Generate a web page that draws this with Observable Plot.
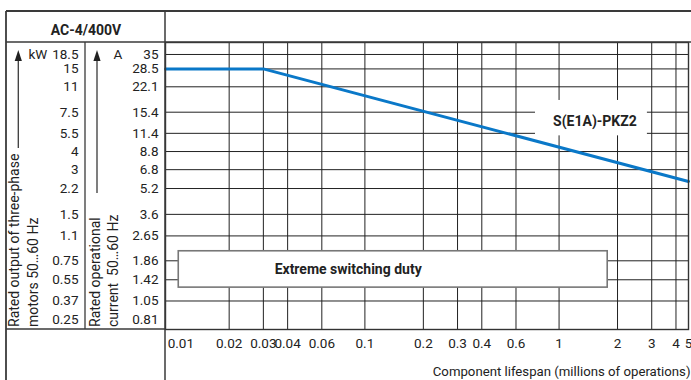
<!DOCTYPE html>
<html><head><meta charset="utf-8">
<script src="https://cdn.jsdelivr.net/npm/d3@7"></script>
<script src="https://cdn.jsdelivr.net/npm/@observablehq/plot@0.6"></script>
<style>
html,body{margin:0;padding:0;background:#fff;}
#chart{width:691px;height:380px;}
</style></head><body><div id="chart"></div>
<script>
// ---- data ----
const currentTicks  = [35, 28.5, 22.1, 15.4, 11.4, 8.8, 6.8, 5.2, 3.6, 2.65, 1.86, 1.42, 1.05, 0.81];
const currentLabels = ["35","28.5","22.1","15.4","11.4","8.8","6.8","5.2","3.6","2.65","1.86","1.42","1.05","0.81"];
const powerLabels   = ["18.5","15","11","7.5","5.5","4","3","2.2","1.5","1.1","0.75","0.55","0.37","0.25"];
const lifespanTicks  = [0.01,0.02,0.03,0.04,0.06,0.1,0.2,0.3,0.4,0.6,1,2,3,4,5];
const lifespanLabels = ["0.01","0.02","0.03","0.04","0.06","0.1","0.2","0.3","0.4","0.6","1","2","3","4","5"];
const seriesName     = "S(E1A)-PKZ2";
const seriesLifespan = [0.0094, 0.03, 5];
const seriesCurrent  = [28.5, 28.5, 5.75];
const seriesLabelAt  = [1.53, 13.56];
const seriesLabelBoxLifespan = [0.756, 2.85];
const seriesLabelBoxCurrent  = [11.0, 18.2];
const dutyLabel = "Extreme switching duty";
const dutyLabelAt = [0.082, 1.645];
const dutyBoxLifespan = [0.011, 1.78];
const dutyBoxCurrent  = [1.27, 2.13];
const headerText = "AC-4/400V";
const powerTitle = ["Rated output of three-phase", "motors 50\u202660 Hz"];
const currentTitle = ["Rated operational", "current\u00a0 50\u202660 Hz"];
const powerUnit = "kW";
const currentUnit = "A";
const xTitle = "Component lifespan (millions of operations)";

// ---- derived tables ----
const yRows = currentTicks.map((a, i) => ({a, label: currentLabels[i], kw: powerLabels[i]}));
const gridRows = yRows.slice(0, 13);
const xRows = lifespanTicks.map((v, i) => ({v, label: lifespanLabels[i]}));
const line = seriesLifespan.map((x, i) => ({x, y: seriesCurrent[i]}));
const dutyBox = [{x1: dutyBoxLifespan[0], x2: dutyBoxLifespan[1], y1: dutyBoxCurrent[0], y2: dutyBoxCurrent[1]}];
const seriesBox = [{x1: seriesLabelBoxLifespan[0], x2: seriesLabelBoxLifespan[1], y1: seriesLabelBoxCurrent[0], y2: seriesLabelBoxCurrent[1]}];

const ML = 165, MR = 3, MT = 42, MB = 51, W = 691, H = 380;
const ink = "#222";
const mid = {lineAnchor: "middle"};

const plot = Plot.plot({
  width: W, height: H,
  marginLeft: ML, marginRight: MR, marginTop: MT, marginBottom: MB,
  style: {fontFamily: "Roboto, sans-serif", fontSize: "13.5px", color: ink, background: "#fff", overflow: "visible"},
  x: {type: "log", domain: [0.0094, 4.64], clamp: true, axis: null},
  y: {type: "log", domain: [0.70, 41.5], axis: null},
  marks: [
    Plot.ruleY(gridRows, {y: "a", stroke: ink, strokeWidth: 1}),
    Plot.ruleX(xRows.slice(1), {x: "v", stroke: ink, strokeWidth: 1}),
    Plot.rect(dutyBox, {x1: "x1", x2: "x2", y1: "y1", y2: "y2", fill: "#fff", stroke: "#777", strokeWidth: 1.6}),
    Plot.rect(seriesBox, {x1: "x1", x2: "x2", y1: "y1", y2: "y2", fill: "#fff"}),
    Plot.line(line, {x: "x", y: "y", stroke: "#0a78c8", strokeWidth: 3}),
    Plot.frame({stroke: "#333", strokeWidth: 1.4}),
    Plot.text([seriesName], {x: () => seriesLabelAt[0], y: () => seriesLabelAt[1], text: d => d, fontWeight: "bold", fontSize: 14, ...mid}),
    Plot.text([dutyLabel], {x: () => dutyLabelAt[0], y: () => dutyLabelAt[1], text: d => d, fontWeight: "bold", fontSize: 14, ...mid}),
    // y tick labels: current (A) and power (kW)
    Plot.text(yRows, {y: "a", text: "label", frameAnchor: "left", textAnchor: "end", dx: -7, ...mid}),
    Plot.text(yRows, {y: "a", text: "kw", frameAnchor: "left", textAnchor: "end", dx: -87, ...mid}),
    Plot.text(yRows.slice(0, 1), {y: "a", text: () => powerUnit, frameAnchor: "left", textAnchor: "start", dx: -137, ...mid}),
    Plot.text(yRows.slice(0, 1), {y: "a", text: () => currentUnit, frameAnchor: "left", textAnchor: "start", dx: -52, ...mid}),
    // x tick labels
    Plot.text(xRows.slice(0, 1), {x: "v", text: "label", frameAnchor: "bottom", textAnchor: "start", dx: -3, dy: 14.5, ...mid}),
    Plot.text(xRows.slice(1), {x: "v", text: "label", frameAnchor: "bottom", dy: 14.5, ...mid}),
    Plot.text([xTitle], {text: d => d, frameAnchor: "bottom-right", textAnchor: "end", dx: 2, dy: 42, fontSize: 13.2, ...mid}),
    // header
    Plot.text([headerText], {text: d => d, frameAnchor: "top-left", textAnchor: "middle", dx: -79.5, dy: -12, fontWeight: "bold", fontSize: 14, ...mid}),
    // rotated axis titles
    Plot.text([powerTitle[0]], {text: d => d, frameAnchor: "bottom-left", rotate: -90, textAnchor: "start", dx: 14.5 - ML, dy: -2.5, fontSize: 14, ...mid}),
    Plot.text([powerTitle[1]], {text: d => d, frameAnchor: "bottom-left", rotate: -90, textAnchor: "start", dx: 33.3 - ML, dy: -2.5, fontSize: 14, ...mid}),
    Plot.text([currentTitle[0]], {text: d => d, frameAnchor: "bottom-left", rotate: -90, textAnchor: "start", dx: 95 - ML, dy: -2.5, fontSize: 14, ...mid}),
    Plot.text([currentTitle[1]], {text: d => d, frameAnchor: "bottom-left", rotate: -90, textAnchor: "start", dx: 113 - ML, dy: -2.5, fontSize: 14, ...mid})
  ]
});

// table structure (layout lines) and arrows
const svg = d3.select(plot);
const g = svg.append("g").attr("fill", "none").attr("stroke", "#3a3a3a");
const segs = [
  [6, 11, W, 11, 1.8],
  [6, MT, W, MT, 1.3],
  [6, 11, 6, H, 1.8],
  [ML, 11, ML, H, 1.5],
  [85, MT, 85, H - MB, 1.3],
  [6, H - MB, ML, H - MB, 1.5]
];
segs.forEach(([x1, y1, x2, y2, w]) => g.append("line").attr("x1", x1).attr("y1", y1).attr("x2", x2).attr("y2", y2).attr("stroke-width", w));
const arrows = [[18.3, 148], [97, 193]];
arrows.forEach(([x, yEnd]) => {
  g.append("line").attr("x1", x).attr("y1", 58).attr("x2", x).attr("y2", yEnd).attr("stroke-width", 1.3);
  svg.append("path").attr("d", `M${x},50 L${x - 3.6},61 L${x + 3.6},61 Z`).attr("fill", "#222");
});

document.getElementById("chart").appendChild(plot);
</script>
</body></html>
